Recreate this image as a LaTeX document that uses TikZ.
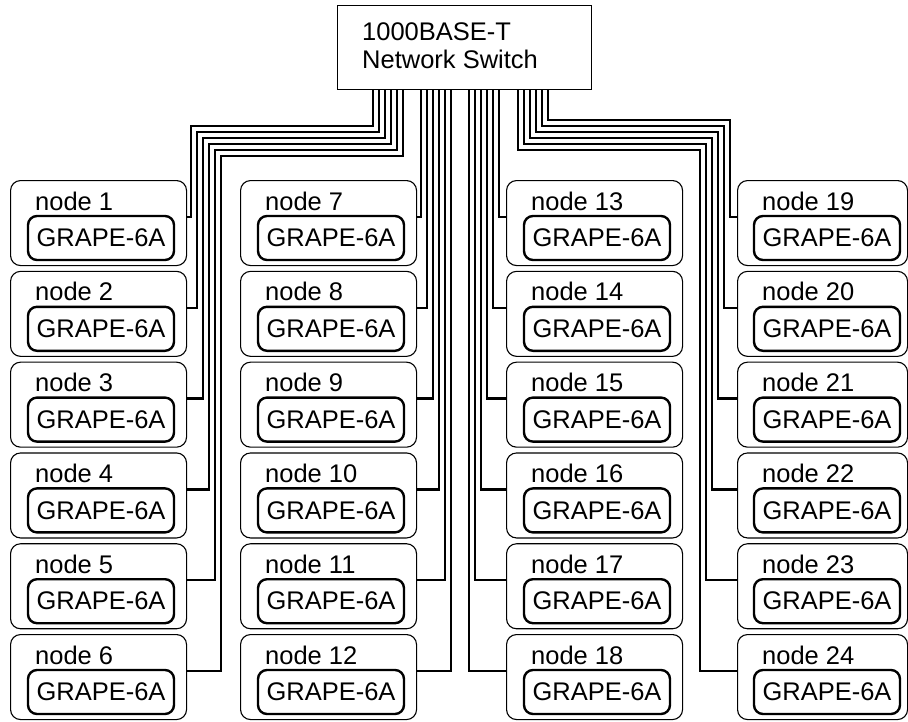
\documentclass[tikz,border=0pt]{standalone}
\usepackage{fontspec}
\setmainfont{Liberation Sans}
\usetikzlibrary{calc}
\begin{document}
\begin{tikzpicture}[x=1pt,y=-1pt,
  font=\fontsize{25.5}{28}\selectfont,
  outerbox/.style={draw, line width=1.1pt, rounded corners=10pt, minimum height=85pt, anchor=north west, inner sep=0pt},
  innerbox/.style={draw, line width=2.4pt, rounded corners=9pt, minimum width=146pt, minimum height=44pt, inner sep=0pt},
  lbl/.style={anchor=base west, inner sep=0pt},
  wire/.style={line width=2.4pt}]
\useasboundingbox (0,0) rectangle (908,721);
% switch
\node[draw, line width=1.1pt, minimum width=254pt, minimum height=84pt, anchor=north west, inner sep=0pt] (sw) at (337,5) {};
\node[lbl] (swa) at (362,40) {1000BASE-T};
\node[lbl] (swb) at (362,68) {Network Switch};
% node boxes
\foreach \c/\L/\W/\o in {1/10/176/18, 2/240/176/18, 3/506/176/18, 4/737/170/17}{
  \foreach \r in {1,...,6}{
    \pgfmathtruncatemacro{\k}{6*(\c-1)+\r}
    \pgfmathsetmacro{\T}{180+90.8*(\r-1)}
    \node[outerbox, minimum width=\W pt] (n\k) at (\L,\T) {};
    \node[lbl] (t\k) at ($(n\k.north west)+(25,30)$) {node \k};
    \node[innerbox] (g\k) at ($(n\k.north west)+(\o+73,58)$) {GRAPE-6A};
  }
}
% wires
\foreach \r in {1,...,6}{
  \pgfmathsetmacro{\d}{6*(\r-1)}
  \pgfmathsetmacro{\yc}{217+90.8*(\r-1)}
  % column 1
  \pgfmathtruncatemacro{\k}{\r}
  \draw[wire] (sw.south -| {373+\d},0) -- ({373+\d},{126+\d}) -- ({191+\d},{126+\d}) -- ({191+\d},\yc) -- (n\k.east |- 0,\yc);
  % column 2
  \pgfmathtruncatemacro{\k}{6+\r}
  \draw[wire] (sw.south -| {421+\d},0) -- ({421+\d},\yc) -- (n\k.east |- 0,\yc);
  % column 3
  \pgfmathtruncatemacro{\k}{12+\r}
  \draw[wire] (sw.south -| {499-\d},0) -- ({499-\d},\yc) -- (n\k.west |- 0,\yc);
  % column 4
  \pgfmathtruncatemacro{\k}{18+\r}
  \draw[wire] (sw.south -| {548-\d},0) -- ({548-\d},{120+\d}) -- ({730-\d},{120+\d}) -- ({730-\d},\yc) -- (n\k.west |- 0,\yc);
}
\end{tikzpicture}
\end{document}
